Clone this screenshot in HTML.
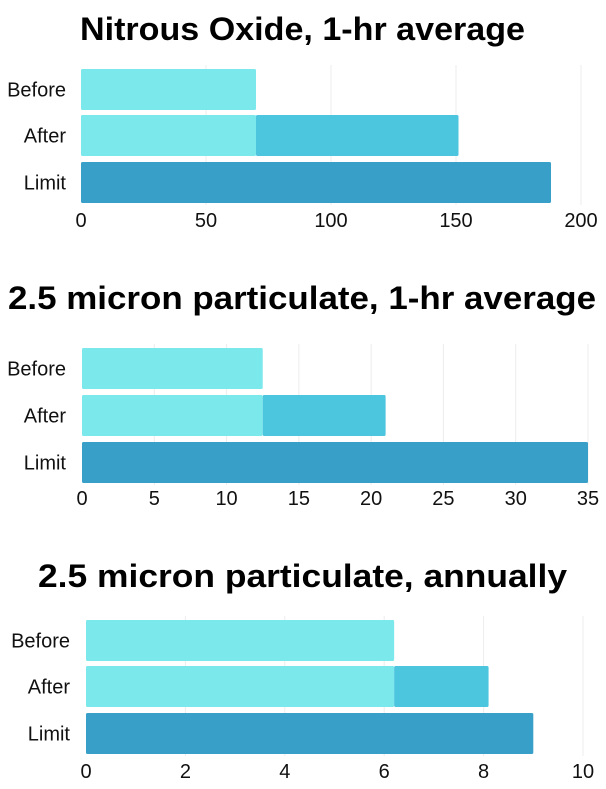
<!DOCTYPE html>
<html><head><meta charset="utf-8"><style>
html,body{margin:0;padding:0;background:#fff;}
svg{display:block;font-family:"Liberation Sans",sans-serif;}
</style></head><body>
<svg id="svg" width="606" height="789" viewBox="0 0 606 789"></svg>
<script>
const titles = ["Nitrous Oxide, 1-hr average","2.5 micron particulate, 1-hr average","2.5 micron particulate, annually"];
const categories = ["Before","After","Limit"];
const beforeVals = [70, 12.5, 6.2];
const afterVals = [151, 21, 8.1];
const limitVals = [188, 35, 9];
const maxVals = [200, 35, 10];
const tickSteps = [50, 5, 2];
const layout = [
 {ty:40, tx:80, tw:445, x0:81, x1:581, bars:[69,115,162], bh:41, lab:72, tick:227},
 {ty:309, tx:8, tw:588, x0:82, x1:588, bars:[348,395,442], bh:41, lab:72, tick:505},
 {ty:587, tx:38, tw:529, x0:86, x1:583, bars:[620,666,713], bh:41, lab:76, tick:778}
];
const NS="http://www.w3.org/2000/svg";
const svg=document.getElementById('svg');
function mk(t,a,p){const e=document.createElementNS(NS,t);for(const k in a)e.setAttribute(k,a[k]);(p||svg).appendChild(e);return e;}
layout.forEach((L,i)=>{
  const g=mk('g',{});
  
  
  const xs=v=>L.x0+(L.x1-L.x0)*v/maxVals[i];
  const t=mk('text',{x:L.tx,y:L.ty,textLength:L.tw,lengthAdjust:'spacingAndGlyphs','font-size':32,'font-weight':'bold',fill:'#000'},g);
  t.textContent=titles[i];
  
  
  for(let v=0;v<=maxVals[i]+1e-9;v+=tickSteps[i]){
    if(v>0){const gl=mk('line',{x1:xs(v),x2:xs(v),y1:L.bars[0]-4,y2:L.bars[2]+L.bh+2,stroke:'#ececec','stroke-width':1},g);
      
      }
    const tl=mk('text',{x:xs(v),y:L.tick,'text-anchor':'middle','font-size':20,fill:'#111'},g);
    tl.textContent=String(v);
    
    
  }
  const light='#7be8ec', mid='#4cc5de', dark='#38a0c8';
  const segs=[[[0,beforeVals[i],light]],[[0,beforeVals[i],light],[beforeVals[i],afterVals[i],mid]],[[0,limitVals[i],dark]]];
  categories.forEach((c,j)=>{
    const y=L.bars[j];
    const lb=mk('text',{x:L.lab-6,y:y+L.bh/2+7,'text-anchor':'end','font-size':20,fill:'#111'},g);
    lb.textContent=c;
    
    
    segs[j].forEach(s=>{
      const r=mk('rect',{x:xs(s[0]),y:y,width:xs(s[1])-xs(s[0]),height:L.bh,fill:s[2],rx:1.5},g);
      
      
    });
  });
});
</script>
</body></html>
